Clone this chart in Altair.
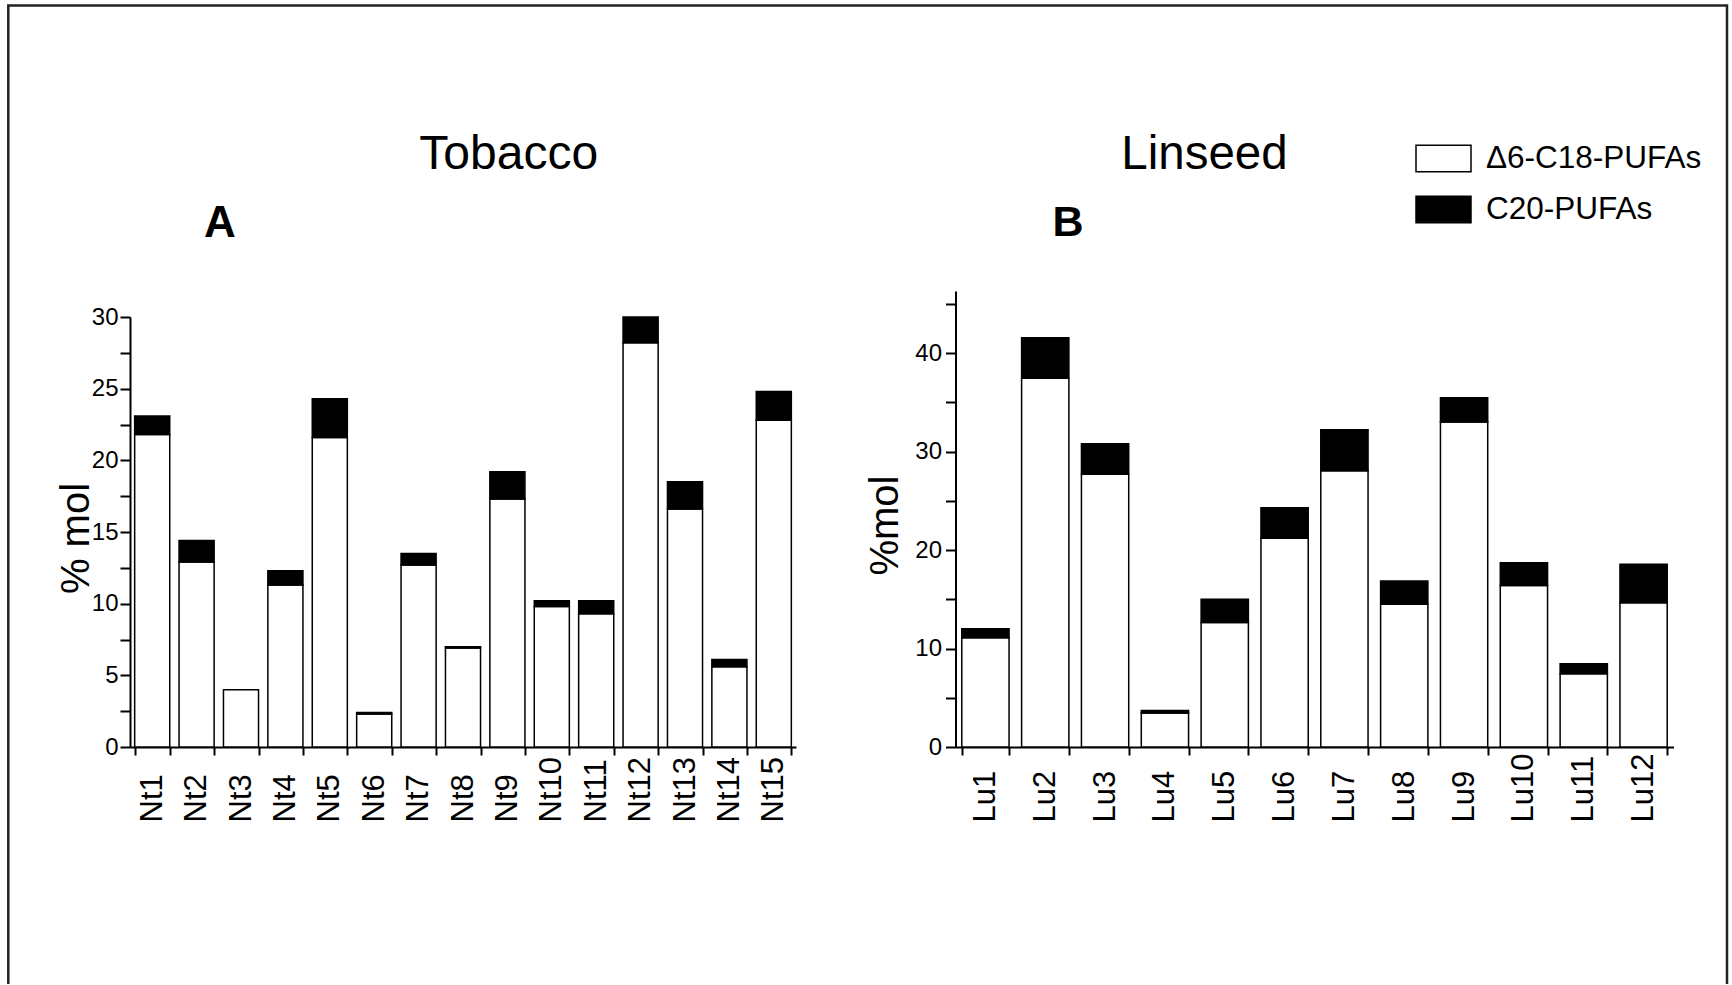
import altair as alt
import pandas as pd

# Tobacco lines (panel A)
tob_samples = ["Nt1", "Nt2", "Nt3", "Nt4", "Nt5", "Nt6", "Nt7", "Nt8",
               "Nt9", "Nt10", "Nt11", "Nt12", "Nt13", "Nt14", "Nt15"]
tob_d6 = [21.8, 12.9, 4.0, 11.3, 21.6, 2.3, 12.7, 6.9, 17.3, 9.8, 9.3, 28.2, 16.6, 5.6, 22.8]
tob_c20 = [1.3, 1.5, 0.0, 1.0, 2.7, 0.1, 0.8, 0.1, 1.9, 0.4, 0.9, 1.8, 1.9, 0.5, 2.0]

# Linseed lines (panel B)
lin_samples = ["Lu1", "Lu2", "Lu3", "Lu4", "Lu5", "Lu6", "Lu7", "Lu8",
               "Lu9", "Lu10", "Lu11", "Lu12"]
lin_d6 = [11.1, 37.45, 27.7, 3.45, 12.65, 21.2, 28.05, 14.5, 33.0, 16.4, 7.45, 14.65]
lin_c20 = [0.9, 4.1, 3.1, 0.25, 2.35, 3.1, 4.15, 2.35, 2.45, 2.3, 1.0, 3.9]

series = ["\u03946-C18-PUFAs", "C20-PUFAs"]
series_fill = ["white", "black"]

FONT = "Liberation Sans"


def long_table(samples, d6, c20):
    rows = []
    for s, a, b in zip(samples, d6, c20):
        rows.append({"sample": s, "fa": series[0], "value": a, "k": 0})
        if b > 0:
            rows.append({"sample": s, "fa": series[1], "value": b, "k": 1})
    return pd.DataFrame(rows)


tob_df = long_table(tob_samples, tob_d6, tob_c20)
lin_df = long_table(lin_samples, lin_d6, lin_c20)

fill = alt.Fill(
    "fa:N",
    scale=alt.Scale(domain=series, range=series_fill),
    legend=alt.Legend(
        title=None, orient="none", legendX=1285, legendY=-161,
        symbolType="M-1,-0.48H1V0.48H-1Z", symbolSize=3025,
        symbolStrokeColor="black", symbolStrokeWidth=1.5, symbolOpacity=1,
        labelFontSize=31.5, labelFont=FONT, labelColor="black", labelOffset=14,
        rowPadding=6, labelLimit=400,
    ),
)

axis_common = dict(
    domainColor="black", domainWidth=2, tickColor="black", tickWidth=2,
    labelColor="black", labelFont=FONT, grid=False,
)

x_axis_common = dict(
    title=None, orient="bottom", labelAngle=270, labelAlign="left",
    labelBaseline="middle", labelFontSize=31, tickSize=8, labelPadding=67,
    tickBand="extent", **axis_common,
)

tob = alt.Chart(tob_df).mark_bar(stroke="black", strokeWidth=1.5).encode(
    x=alt.X("sample:N", sort=tob_samples,
            scale=alt.Scale(range=[0, 666], paddingInner=0.21, paddingOuter=0.105),
            axis=alt.Axis(**x_axis_common)),
    y=alt.Y("value:Q", stack="zero",
            scale=alt.Scale(domain=[0, 30], range=[456, 26], nice=False),
            axis=alt.Axis(
                orient="left", values=[i * 2.5 for i in range(13)],
                labelExpr="datum.value % 5 === 0 ? datum.label : ''",
                labelFontSize=24, tickSize=10, labelPadding=2,
                title="% mol", titleFont=FONT, titleFontSize=40,
                titleFontWeight="normal", titleColor="black",
                titleAngle=270, titleAlign="center", titleBaseline="bottom",
                titleX=-34, titleY=247, **axis_common)),
    fill=fill,
    order=alt.Order("k:Q", sort="ascending"),
)

lin = alt.Chart(lin_df).mark_bar(stroke="black", strokeWidth=1.5).encode(
    x=alt.X("sample:N", sort=lin_samples,
            scale=alt.Scale(range=[825.5, 1543.5], paddingInner=0.21, paddingOuter=0.105),
            axis=alt.Axis(**x_axis_common)),
    y=alt.Y("value:Q", stack="zero",
            scale=alt.Scale(domain=[0, 46.3], range=[456, 0], nice=False),
            axis=alt.Axis(
                orient="left", offset=-825.5, values=[i * 5 for i in range(10)],
                labelExpr="datum.value % 10 === 0 ? datum.label : ''",
                labelFontSize=24, tickSize=10, labelPadding=4,
                title="%mol", titleFont=FONT, titleFontSize=40,
                titleFontWeight="normal", titleColor="black",
                titleAngle=270, titleAlign="center", titleBaseline="bottom",
                titleX=-50.5, titleY=234, **axis_common)),
    fill=fill,
    order=alt.Order("k:Q", sort="ascending"),
)


def label(text, x, y, size, weight="normal"):
    return alt.Chart(pd.DataFrame({"t": [text]})).mark_text(
        font=FONT, fontSize=size, fontWeight=weight, color="black",
        align="center", baseline="alphabetic",
    ).encode(x=alt.value(x), y=alt.value(y), text="t:N")


# outer frame of the figure
frame = alt.Chart(pd.DataFrame({"f": [0]})).mark_rect(
    fillOpacity=0, stroke="#222222", strokeWidth=2.5
).encode(x=alt.value(-121.7), x2=alt.value(1597), y=alt.value(-285.5), y2=alt.value(760))

chart = alt.layer(
    frame,
    tob,
    lin,
    label("Tobacco", 378.7, -122, 48),
    label("A", 90, -54, 44, "bold"),
    label("Linseed", 1074.5, -122, 47.5),
    label("B", 938, -55, 43, "bold"),
).resolve_scale(
    x="independent", y="independent", fill="shared"
).resolve_axis(
    x="independent", y="independent"
).properties(
    width=1544, height=456,
    background="white",
    autosize=alt.AutoSizeParams(type="none"),
    padding={"left": 130, "top": 291, "right": 58, "bottom": 237},
).configure_view(stroke=None)

chart.save("out.html", embed_options={"renderer": "svg", "actions": False})
